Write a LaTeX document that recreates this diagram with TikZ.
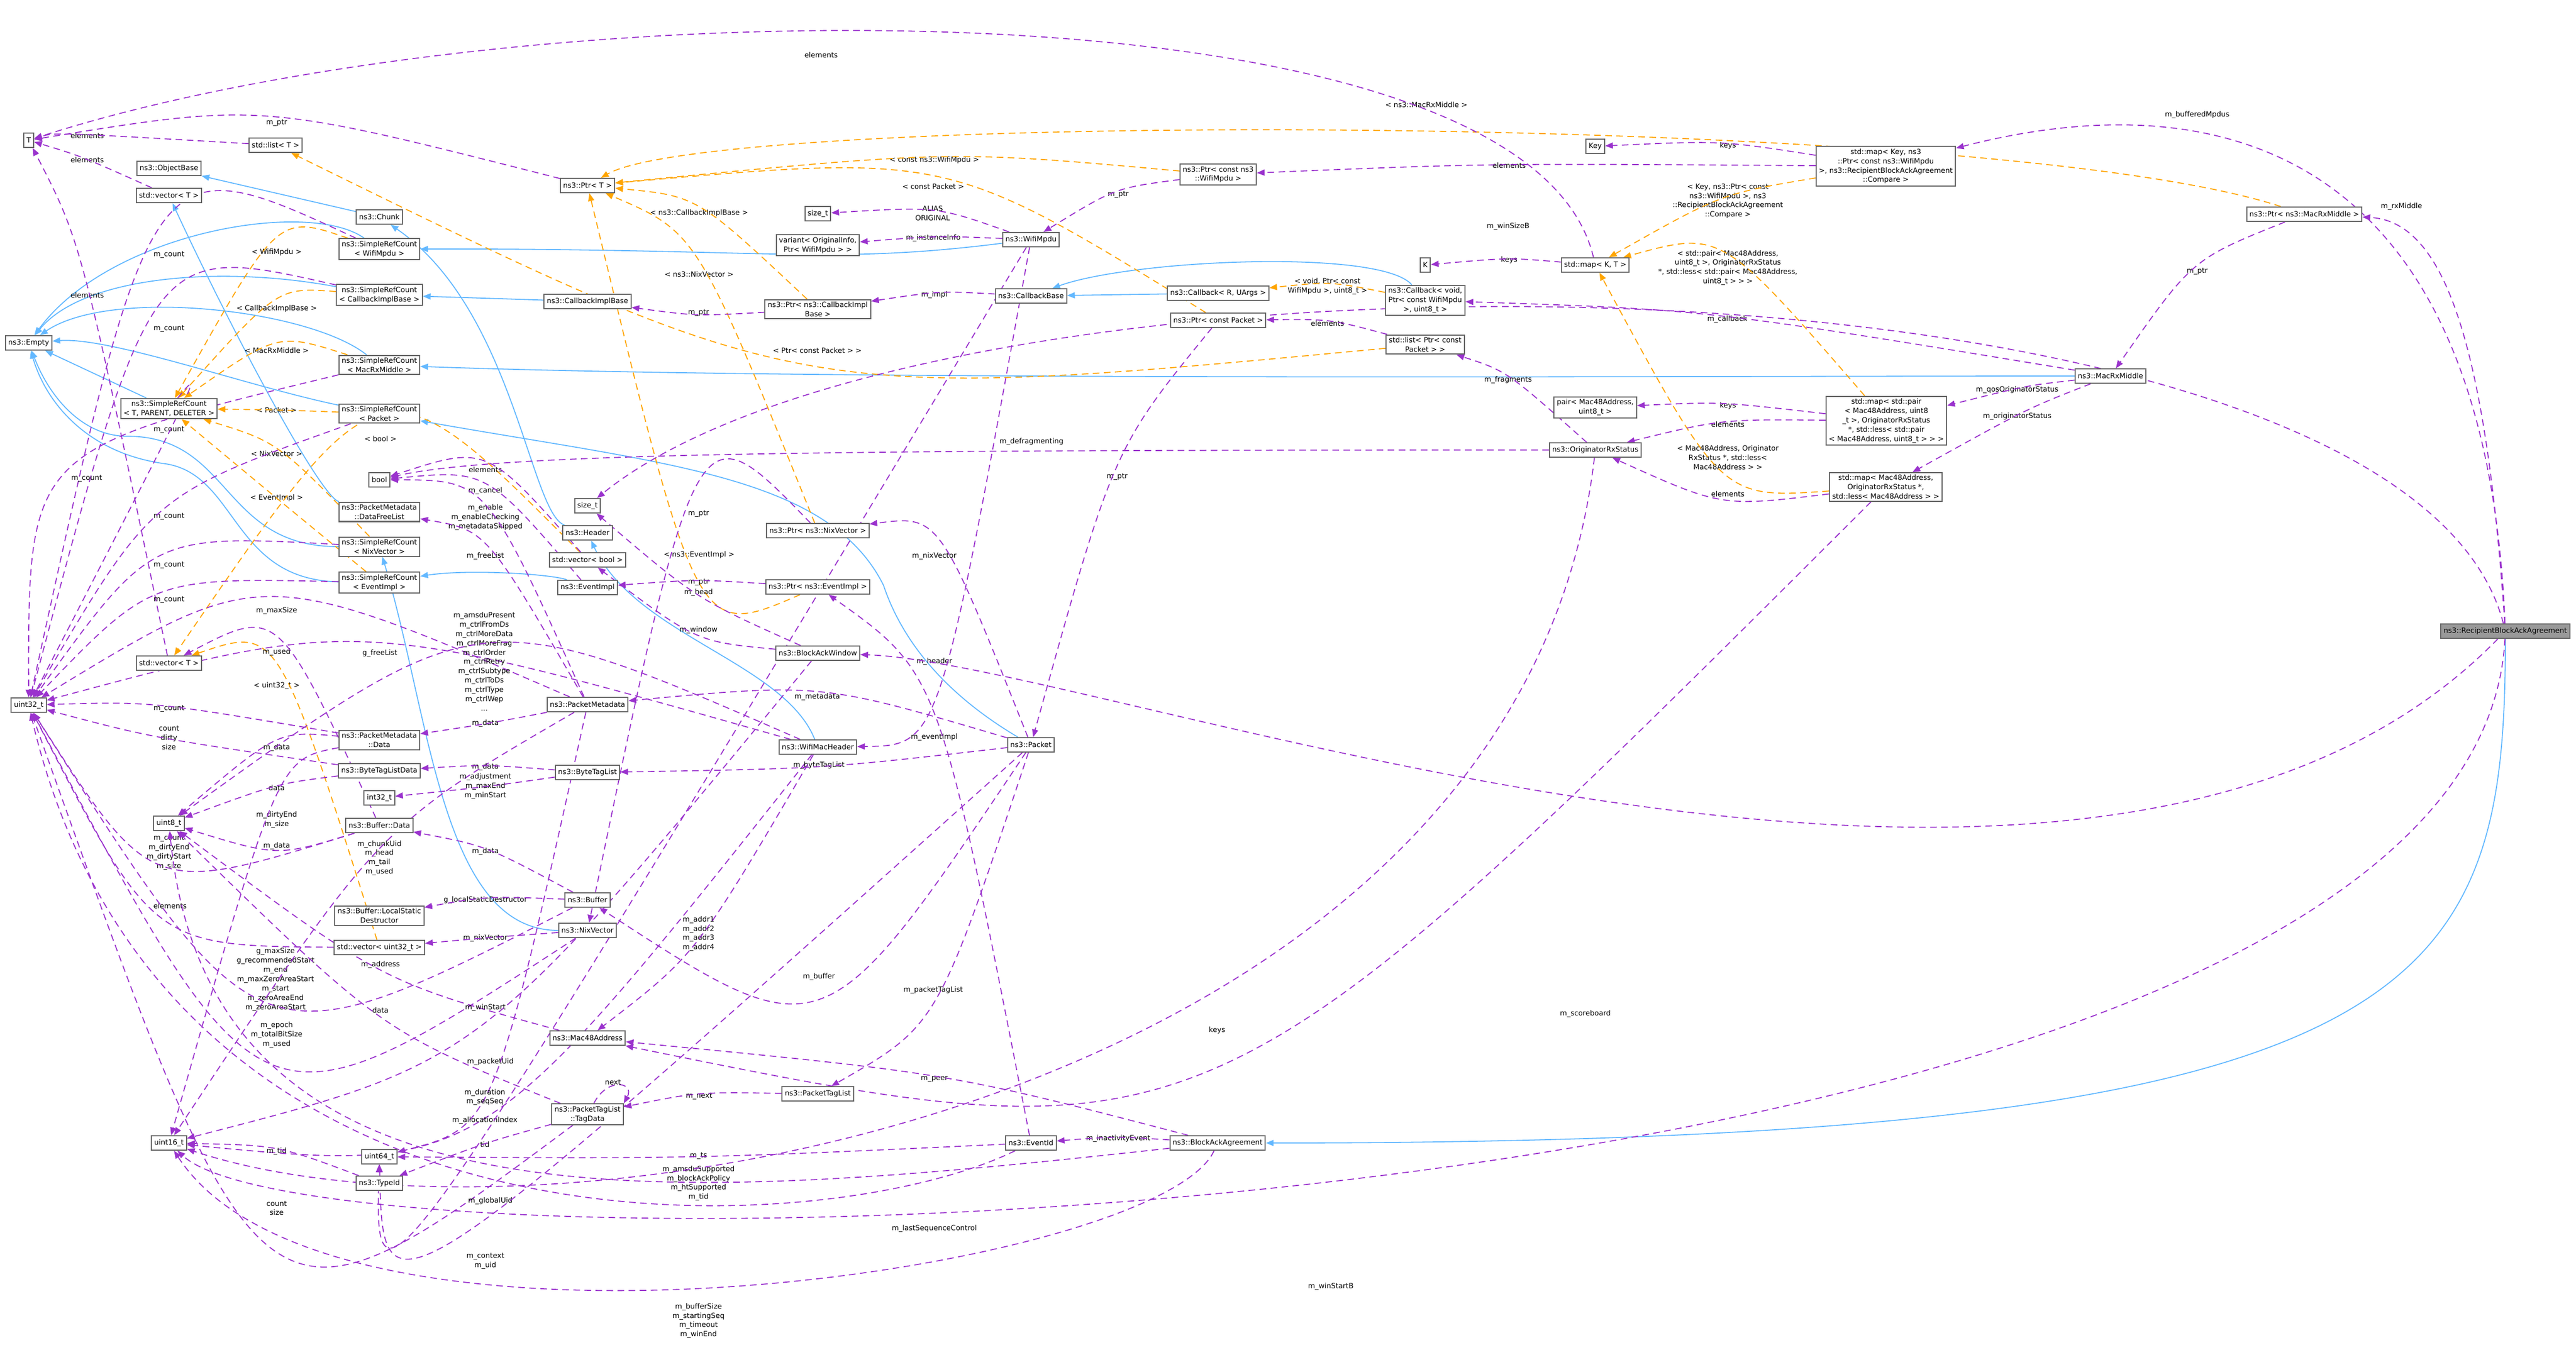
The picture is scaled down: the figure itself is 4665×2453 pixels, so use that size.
\documentclass[tikz,border=0pt]{standalone}
\usepackage{fontspec}
\setmainfont{DejaVu Sans}
\usetikzlibrary{arrows.meta,calc}
\pgfdeclarelayer{bg}
\pgfsetlayers{bg,main}
\definecolor{memc}{HTML}{9A32CD}
\definecolor{tplc}{HTML}{FFA500}
\definecolor{inhc}{HTML}{63B8FF}
\newcommand\dfont{\fontsize{3.7}{4.8}\selectfont}
\newcounter{lbc}
\newcommand\Edge[5]{\stepcounter{lbc}\node[lbl] (lb\arabic{lbc}) at (#4) {#5};\draw[#1] (#2) .. controls ($1.5*(lb\arabic{lbc}.center)-0.25*(#2)-0.25*(#3)$) .. (#3);}
\newcommand\EdgeC[7]{\stepcounter{lbc}\node[lbl] (lb\arabic{lbc}) at (#4) {#5};\draw[#1] (#2) .. controls (#6) and (#7) .. (#3);}
\tikzset{
 cls/.style={draw=black!60,fill=white,font=\dfont,inner xsep=0.05cm,inner ysep=0.04cm,minimum height=0.26cm,align=center,line width=0.02cm},
 lbl/.style={font=\dfont,align=center,inner sep=0pt},
 pe/.style={draw=memc,color=memc,dash pattern=on 0.12cm off 0.08cm,line width=0.018cm,-{Triangle[length=0.14cm,width=0.11cm]}},
 te/.style={draw=tplc,color=tplc,dash pattern=on 0.12cm off 0.08cm,line width=0.018cm,-{Triangle[length=0.14cm,width=0.11cm]}},
 ie/.style={draw=inhc,color=inhc,line width=0.018cm,-{Triangle[length=0.14cm,width=0.11cm]}},
}
\begin{document}
\begin{tikzpicture}[x=0.01cm,y=-0.01cm]
\useasboundingbox (0,0) rectangle (4665,2453);
% column 1
\node[cls] (T) at (52,254) {T};
\node[cls] (empty) at (52,621) {ns3::Empty};
\node[cls] (u32) at (52,1277) {uint32\_t};
% column 2
\node[cls] (objbase) at (306,305) {ns3::ObjectBase};
\node[cls] (vecT) at (306,354) {std::vector< T >};
\node[cls] (srcT) at (306,740) {ns3::SimpleRefCount\\< T, PARENT, DELETER >};
\node[cls] (vecT2) at (306,1201) {std::vector< T >};
\node[cls] (u8) at (306,1491) {uint8\_t};
\node[cls] (u16) at (306,2070) {uint16\_t};
% column 3
\node[cls] (stdlistT) at (499,263) {std::list< T >};
\node[cls] (chunk) at (687,393) {ns3::Chunk};
\node[cls] (srcW) at (687,451) {ns3::SimpleRefCount\\< WifiMpdu >};
\node[cls] (srcC) at (687,534) {ns3::SimpleRefCount\\< CallbackImplBase >};
\node[cls] (srcM) at (687,661) {ns3::SimpleRefCount\\< MacRxMiddle >};
\node[cls] (srcP) at (687,749) {ns3::SimpleRefCount\\< Packet >};
\node[cls] (bool) at (687,869) {bool};
\node[cls] (dfl) at (687,927) {ns3::PacketMetadata\\::DataFreeList};
\node[cls] (srcN) at (687,990) {ns3::SimpleRefCount\\< NixVector >};
\node[cls] (srcE) at (687,1055) {ns3::SimpleRefCount\\< EventImpl >};
\node[cls] (pmd) at (687,1340) {ns3::PacketMetadata\\::Data};
\node[cls] (btld) at (687,1396) {ns3::ByteTagListData};
\node[cls] (i32) at (687,1445) {int32\_t};
\node[cls] (bufd) at (687,1495) {ns3::Buffer::Data};
\node[cls] (lsd) at (687,1658) {ns3::Buffer::LocalStatic\\Destructor};
\node[cls] (vecu32) at (687,1716) {std::vector< uint32\_t >};
\node[cls] (u64) at (687,2095) {uint64\_t};
\node[cls] (tid) at (687,2143) {ns3::TypeId};
% column 4
\node[cls] (ptrT) at (1064,336) {ns3::Ptr< T >};
\node[cls] (cib) at (1064,546) {ns3::CallbackImplBase};
\node[cls] (sizeB) at (1064,916) {size\_t};
\node[cls] (header) at (1064,965) {ns3::Header};
\node[cls] (vecbool) at (1064,1014) {std::vector< bool >};
\node[cls] (eimpl) at (1064,1064) {ns3::EventImpl};
\node[cls] (pm) at (1064,1276) {ns3::PacketMetadata};
\node[cls] (btl) at (1064,1399) {ns3::ByteTagList};
\node[cls] (buf) at (1064,1630) {ns3::Buffer};
\node[cls] (nix) at (1064,1685) {ns3::NixVector};
\node[cls] (mac) at (1064,1880) {ns3::Mac48Address};
\node[cls] (tagd) at (1064,2018) {ns3::PacketTagList\\::TagData};
% column 5
\node[cls] (sizeA) at (1481,387) {size\_t};
\node[cls] (variant) at (1481,444) {variant< OriginalInfo,\\Ptr< WifiMpdu > >};
\node[cls] (ptrCIB) at (1481,560) {ns3::Ptr< ns3::CallbackImpl\\Base >};
\node[cls] (ptrN) at (1481,961) {ns3::Ptr< ns3::NixVector >};
\node[cls] (ptrE) at (1481,1063) {ns3::Ptr< ns3::EventImpl >};
\node[cls] (baw) at (1481,1183) {ns3::BlockAckWindow};
\node[cls] (wmh) at (1481,1353) {ns3::WifiMacHeader};
\node[cls] (ptl) at (1481,1981) {ns3::PacketTagList};
% column 6
\node[cls] (wmpdu) at (1867,434) {ns3::WifiMpdu};
\node[cls] (cbb) at (1867,536) {ns3::CallbackBase};
\node[cls] (pkt) at (1867,1349) {ns3::Packet};
\node[cls] (eid) at (1867,2070) {ns3::EventId};
% column 7
\node[cls] (ptrCW) at (2206,316) {ns3::Ptr< const ns3\\::WifiMpdu >};
\node[cls] (cbRU) at (2206,531) {ns3::Callback< R, UArgs >};
\node[cls] (ptrCP) at (2206,580) {ns3::Ptr< const Packet >};
\node[cls] (baa) at (2205,2070) {ns3::BlockAckAgreement};
% column 8
\node[cls] (K) at (2581,480) {K};
\node[cls] (cbV) at (2581,544) {ns3::Callback< void,\\Ptr< const WifiMpdu\\>, uint8\_t >};
\node[cls] (listP) at (2581,624) {std::list< Ptr< const\\Packet > >};
% column 9
\node[cls] (key) at (2889,265) {Key};
\node[cls] (mapKT) at (2889,480) {std::map< K, T >};
\node[cls] (pair) at (2889,738) {pair< Mac48Address,\\uint8\_t >};
\node[cls] (ors) at (2889,815) {ns3::OriginatorRxStatus};
% column 10
\node[cls] (mapKey) at (3415,301) {std::map< Key, ns3\\::Ptr< const ns3::WifiMpdu\\>, ns3::RecipientBlockAckAgreement\\::Compare >};
\node[cls] (mapPair) at (3416,762) {std::map< std::pair\\< Mac48Address, uint8\\\_t >, OriginatorRxStatus\\*, std::less< std::pair\\< Mac48Address, uint8\_t > > >};
\node[cls] (mapMac) at (3415,882) {std::map< Mac48Address,\\OriginatorRxStatus *,\\std::less< Mac48Address > >};
% columns 11-13
\node[cls] (mrm) at (3822,681) {ns3::MacRxMiddle};
\node[cls] (ptrMRM) at (4173,388) {ns3::Ptr< ns3::MacRxMiddle >};
\node[cls,fill=black!40] (rbaa) at (4537,1143) {ns3::RecipientBlockAckAgreement};

\begin{pgfonlayer}{bg}
% inheritance
\draw[ie] (chunk) -- (objbase);
\draw[ie] (header) .. controls (960,930) and (930,560) .. (chunk);
\draw[ie] (srcW) .. controls (560,360) and (200,420) .. (empty);
\draw[ie] (srcC) .. controls (400,480) and (150,500) .. (empty);
\draw[ie] (srcM) .. controls (560,560) and (200,520) .. (empty);
\draw[ie] (srcT) -- (empty);
\draw[ie] (srcP) .. controls (450,700) and (200,610) .. (empty);
\draw[ie] (srcN) .. controls (400,990) and (420,790) .. (230,790) .. controls (150,790) and (90,720) .. (empty);
\draw[ie] (srcE) .. controls (420,1050) and (430,860) .. (300,840) .. controls (150,820) and (80,720) .. (empty);
\draw[ie] (wmpdu) .. controls (1500,480) and (1400,450) .. (srcW);
\draw[ie] (cib) -- (srcC);
\draw[ie] (mrm) .. controls (3000,681) and (1500,690) .. (srcM);
\draw[ie] (pkt) .. controls (1700,1250) and (1630,1150) .. (1600,1060) .. controls (1500,860) and (1200,840) .. (srcP);
\draw[ie] (nix) .. controls (800,1685) and (780,1300) .. (srcN);
\draw[ie] (eimpl) .. controls (1000,1040) and (850,1030) .. (srcE);
\draw[ie] (dfl) .. controls (580,900) and (420,600) .. (vecT);
\draw[ie] (wmh) .. controls (1420,1200) and (1150,1150) .. (header);
\draw[ie] (cbV) .. controls (2500,450) and (2050,470) .. (cbb);
\draw[ie] (cbRU) -- (cbb);
\draw[ie] (rbaa) .. controls (4537,1800) and (4400,2070) .. (baa);
% templates
\Edge{te}{listP}{stdlistT}{1480,635}{< Ptr< const Packet > >}
\Edge{te}{ptrCW}{ptrT}{1692,290}{< const ns3::WifiMpdu >}
\Edge{te}{ptrCP}{ptrT}{1690,338}{< const Packet >}
\Edge{te}{ptrCIB}{ptrT}{1266,386}{< ns3::CallbackImplBase >}
\Edge{te}{ptrN}{ptrT}{1266,497}{< ns3::NixVector >}
\Edge{te}{ptrE}{ptrT}{1266,1005}{< ns3::EventImpl >}
\EdgeC{te}{ptrMRM}{ptrT}{2583,190}{< ns3::MacRxMiddle >}{3600,200}{1300,200}
\Edge{te}{srcW}{srcT}{501,457}{< WifiMpdu >}
\Edge{te}{srcC}{srcT}{501,559}{< CallbackImplBase >}
\Edge{te}{srcM}{srcT}{501,635}{< MacRxMiddle >}
\Edge{te}{srcP}{srcT}{501,743}{< Packet >}
\Edge{te}{srcN}{srcT}{501,822}{< NixVector >}
\Edge{te}{srcE}{srcT}{501,902}{< EventImpl >}
\Edge{te}{vecbool}{vecT2}{689,795}{< bool >}
\Edge{te}{vecu32}{vecT2}{501,1242}{< uint32\_t >}
\Edge{te}{cbV}{cbRU}{2404,519}{< void, Ptr< const\\WifiMpdu >, uint8\_t >}
\Edge{te}{mapKey}{mapKT}{3129,364}{< Key, ns3::Ptr< const\\ns3::WifiMpdu >, ns3\\::RecipientBlockAckAgreement\\::Compare >}
\Edge{te}{mapPair}{mapKT}{3129,485}{< std::pair< Mac48Address,\\uint8\_t >, OriginatorRxStatus\\*, std::less< std::pair< Mac48Address,\\uint8\_t > > >}
\Edge{te}{mapMac}{mapKT}{3129,829}{< Mac48Address, Originator\\RxStatus *, std::less<\\Mac48Address > >}
% members
\Edge{pe}{stdlistT}{T}{158,246}{elements}
\Edge{pe}{vecT}{T}{158,290}{elements}
\Edge{pe}{ptrT}{T}{501,222}{m\_ptr}
\EdgeC{pe}{mapKT}{T}{1487,100}{elements}{2760,-60}{900,-20}
\Edge{pe}{vecT2}{T}{158,535}{elements}
\Edge{pe}{mapKT}{K}{2733,471}{keys}
\Edge{pe}{srcW}{u32}{306,461}{m\_count}
\Edge{pe}{srcC}{u32}{306,595}{m\_count}
\Edge{pe}{srcT}{u32}{306,778}{m\_count}
\Edge{pe}{srcM}{u32}{157,866}{m\_count}
\Edge{pe}{srcP}{u32}{306,935}{m\_count}
\Edge{pe}{srcN}{u32}{306,1023}{m\_count}
\Edge{pe}{srcE}{u32}{306,1086}{m\_count}
\Edge{pe}{pmd}{u32}{306,1283}{m\_count}
\Edge{pe}{pmd}{u8}{501,1354}{m\_data}
\Edge{pe}{btld}{u32}{306,1336}{count\\dirty\\size}
\Edge{pe}{btld}{u8}{501,1427}{data}
\Edge{pe}{pmd}{u16}{501,1485}{m\_dirtyEnd\\m\_size}
\Edge{pe}{bufd}{u8}{501,1532}{m\_data}
\Edge{pe}{bufd}{u32}{306,1544}{m\_count\\m\_dirtyEnd\\m\_dirtyStart\\m\_size}
\Edge{pe}{vecu32}{u32}{308,1641}{elements}
\Edge{pe}{buf}{u32}{499,1774}{g\_maxSize\\g\_recommendedStart\\m\_end\\m\_maxZeroAreaStart\\m\_start\\m\_zeroAreaEnd\\m\_zeroAreaStart}
\Edge{pe}{nix}{u32}{501,1874}{m\_epoch\\m\_totalBitSize\\m\_used}
\Edge{pe}{buf}{bufd}{879,1542}{m\_data}
\Edge{pe}{buf}{lsd}{879,1630}{g\_localStaticDestructor}
\Edge{pe}{nix}{vecu32}{879,1699}{m\_nixVector}
\Edge{pe}{pm}{u16}{687,1554}{m\_chunkUid\\m\_head\\m\_tail\\m\_used}
\Edge{pe}{pm}{pmd}{879,1310}{m\_data}
\Edge{pe}{btl}{btld}{879,1389}{m\_data}
\Edge{pe}{btl}{i32}{879,1424}{m\_adjustment\\m\_maxEnd\\m\_minStart}
\Edge{pe}{mac}{u8}{689,1747}{m\_address}
\Edge{pe}{tagd}{u8}{689,1830}{data}
\Edge{pe}{baw}{u16}{879,1825}{m\_winStart}
\Edge{pe}{pm}{u64}{888,1923}{m\_packetUid}
\Edge{pe}{wmh}{u16}{878,1987}{m\_duration\\m\_seqSeq}
\Edge{pe}{wmpdu}{u64}{878,2029}{m\_allocationIndex}
\draw[pe] (tagd.60) .. controls (1100,1950) and (1150,1960) .. (tagd.north east);
\node[lbl] (lnext) at (1110,1960) {next};
\Edge{pe}{tagd}{tid}{878,2073}{tid}
\Edge{pe}{tid}{u16}{501,2085}{m\_tid}
\Edge{pe}{tagd}{u32}{501,2188}{count\\size}
\Edge{pe}{pkt}{u64}{888,2175}{m\_globalUid}
\EdgeC{pe}{eid}{u32}{879,2284}{m\_context\\m\_uid}{1500,2250}{300,2330}
\Edge{pe}{eid}{u64}{1265,2093}{m\_ts}
\EdgeC{pe}{baa}{u8}{1265,2143}{m\_amsduSupported\\m\_blockAckPolicy\\m\_htSupported\\m\_tid}{1200,2180}{380,2250}
\EdgeC{pe}{ors}{u16}{1692,2225}{m\_lastSequenceControl}{2750,2000}{1000,2300}
\EdgeC{pe}{baa}{u16}{1265,2392}{m\_bufferSize\\m\_startingSeq\\m\_timeout\\m\_winEnd}{2100,2300}{600,2520}
\EdgeC{pe}{rbaa}{u16}{2410,2330}{m\_winStartB}{4480,2250}{600,2340}
\Edge{pe}{pkt}{pm}{1480,1262}{m\_metadata}
\Edge{pe}{eid}{ptrE}{1692,1335}{m\_eventImpl}
\Edge{pe}{pkt}{btl}{1483,1386}{m\_byteTagList}
\Edge{pe}{wmh}{mac}{1265,1691}{m\_addr1\\m\_addr2\\m\_addr3\\m\_addr4}
\Edge{pe}{pkt}{buf}{1483,1769}{m\_buffer}
\Edge{pe}{pkt}{ptl}{1690,1793}{m\_packetTagList}
\Edge{pe}{ptl}{tagd}{1266,1985}{m\_next}
\Edge{pe}{baa}{mac}{1692,1954}{m\_peer}
\Edge{pe}{mapMac}{mac}{2204,1866}{keys}
\Edge{pe}{baa}{eid}{2025,2062}{m\_inactivityEvent}
\Edge{pe}{ptrCIB}{cib}{1265,566}{m\_ptr}
\Edge{pe}{cbb}{ptrCIB}{1692,534}{m\_impl}
\Edge{pe}{wmpdu}{sizeA}{1689,386}{ALIAS\\ORIGINAL}
\Edge{pe}{wmpdu}{variant}{1690,431}{m\_instanceInfo}
\Edge{pe}{ptrCW}{wmpdu}{2025,352}{m\_ptr}
\Edge{pe}{ptrN}{nix}{1265,930}{m\_ptr}
\Edge{pe}{pkt}{ptrN}{1692,1007}{m\_nixVector}
\Edge{pe}{ptrE}{eimpl}{1265,1054}{m\_ptr}
\Edge{pe}{baw}{sizeB}{1265,1073}{m\_head}
\Edge{pe}{baw}{vecbool}{1265,1141}{m\_window}
\Edge{pe}{wmpdu}{wmh}{1692,1198}{m\_header}
\Edge{pe}{ptrCP}{pkt}{2023,863}{m\_ptr}
\EdgeC{pe}{ors}{bool}{1868,800}{m\_defragmenting}{1500,815}{900,820}
\Edge{pe}{vecbool}{bool}{879,851}{elements}
\Edge{pe}{eimpl}{bool}{879,889}{m\_cancel}
\Edge{pe}{pm}{bool}{879,937}{m\_enable\\m\_enableChecking\\m\_metadataSkipped}
\Edge{pe}{pm}{dfl}{879,1007}{m\_freeList}
\Edge{pe}{pm}{u32}{501,1106}{m\_maxSize}
\Edge{pe}{bufd}{vecT2}{501,1181}{m\_used}
\Edge{pe}{wmh}{u32}{688,1183}{g\_freeList}
\Edge{pe}{wmh}{u8}{877,1198}{m\_amsduPresent\\m\_ctrlFromDs\\m\_ctrlMoreData\\m\_ctrlMoreFrag\\m\_ctrlOrder\\m\_ctrlRetry\\m\_ctrlSubtype\\m\_ctrlToDs\\m\_ctrlType\\m\_ctrlWep\\...}
\EdgeC{pe}{rbaa}{mapKey}{3979,208}{m\_bufferedMpdus}{4500,250}{4000,150}
\EdgeC{pe}{rbaa}{ptrMRM}{4349,374}{m\_rxMiddle}{4500,600}{4420,400}
\Edge{pe}{ptrMRM}{mrm}{3979,491}{m\_ptr}
\Edge{pe}{mrm}{mapPair}{3653,706}{m\_qosOriginatorStatus}
\Edge{pe}{mrm}{mapMac}{3653,754}{m\_originatorStatus}
\Edge{pe}{mrm}{cbV}{3128,578}{m\_callback}
\Edge{pe}{ors}{listP}{2731,688}{m\_fragments}
\Edge{pe}{mapKey}{key}{3129,264}{keys}
\Edge{pe}{mapKey}{ptrCW}{2733,300}{elements}
\Edge{pe}{mapPair}{pair}{3129,735}{keys}
\Edge{pe}{mapPair}{ors}{3129,769}{elements}
\Edge{pe}{mapMac}{ors}{3129,895}{elements}
\Edge{pe}{listP}{ptrCP}{2404,586}{elements}
\EdgeC{pe}{rbaa}{baw}{2871,1836}{m\_scoreboard}{3800,1900}{2000,1200}
\EdgeC{pe}{rbaa}{sizeB}{2731,410}{m\_winSizeB}{4350,420}{1700,400}
\end{pgfonlayer}
\end{tikzpicture}
\end{document}
